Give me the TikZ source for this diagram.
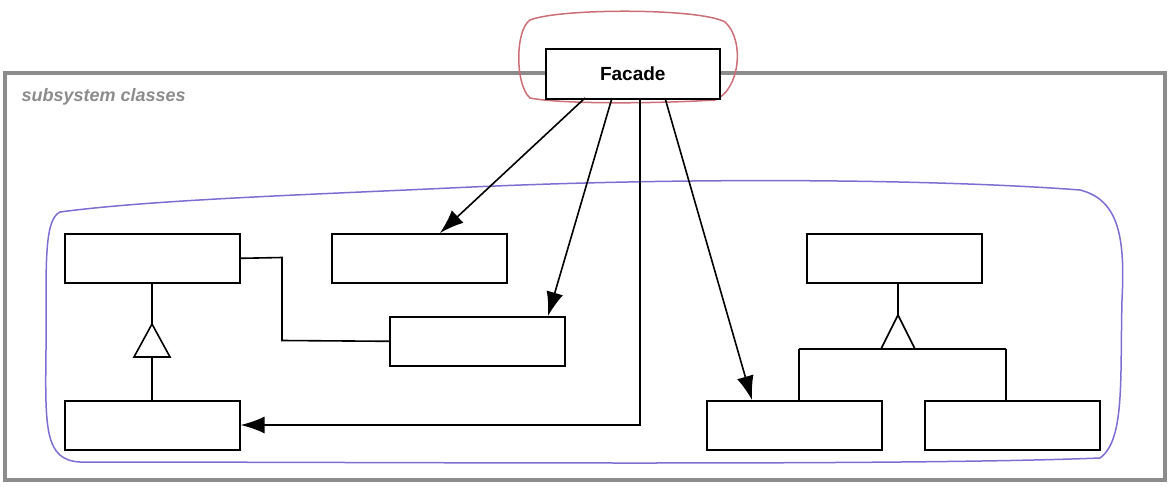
\documentclass[tikz,border=0pt]{standalone}
\usepackage{fontspec}
\setmainfont{Liberation Sans}
\usetikzlibrary{arrows.meta}
\definecolor{blu}{HTML}{7B6FD2}
\definecolor{rd}{HTML}{CC6E78}
\begin{document}
\begin{tikzpicture}[x=1pt,y=-1pt,
 cls/.style={draw,line width=1.6pt,fill=white,minimum width=175pt,minimum height=49pt,inner sep=0pt,anchor=north west},
 arr/.style={line width=1.6pt,-{Latex[length=24pt,width=17pt]}},
 ln/.style={line width=1.6pt}]
\useasboundingbox (0,0) rectangle (1170,487);
\draw[line width=3.5pt,black!45] (5,73) rectangle (1165,480);
\node[anchor=west,text=black!45,font=\itshape\bfseries\fontsize{18}{20}\selectfont] (lbl) at (18,97) {subsystem classes};
% blue freehand
\draw[line width=1.5pt,blu] (60,212) .. controls (150,200) and (300,195) .. (450,188)
 .. controls (700,176) and (950,180) .. (1080,190) .. controls (1120,200) and (1125,240) .. (1122,300)
 .. controls (1120,380) and (1125,440) .. (1100,458) .. controls (900,466) and (400,462) .. (80,462)
 .. controls (45,460) and (45,430) .. (46,350) .. controls (47,280) and (42,220) .. (60,212);
% red freehand
\draw[line width=1.5pt,rd] (530,20) .. controls (560,8) and (700,8) .. (725,22)
 .. controls (745,40) and (740,90) .. (715,100) .. controls (650,104) and (560,104) .. (530,98)
 .. controls (515,85) and (515,30) .. (530,20);
\node[cls,minimum width=174pt,minimum height=50pt,font=\bfseries\fontsize{19}{21}\selectfont] (fac) at (545,48) {\raisebox{-3pt}{Facade}};
\node[cls] (A) at (64,233) {};
\node[cls] (B) at (331,233) {};
\node[cls] (C) at (389,316) {};
\node[cls] (D) at (64,400) {};
\node[cls] (E) at (806,233) {};
\node[cls] (F) at (706,400) {};
\node[cls] (G) at (924,400) {};
% A to C
\draw[ln] (A.east) -- (282,257.5) -- (282,340.5) -- (C.west);
% inheritance left
\coordinate (t1) at (152,324);
\draw[ln] (A.south -| t1) -- (t1);
\draw[ln,fill=white] (t1) -- (170,357) -- (134,357) -- cycle;
\draw[ln] (152,357) -- (D.north -| t1);
% inheritance right
\coordinate (t2) at (898,315);
\draw[ln] (E.south -| t2) -- (t2);
\draw[ln,fill=white] (t2) -- (915,349) -- (881,349) -- cycle;
\draw[ln] (799,349) -- (1006,349);
\draw[ln] (799,349) -- (799,400);
\draw[ln] (1006,349) -- (1006,400);
% facade arrows
\draw[arr] (585,98) -- (440,233);
\draw[arr] (612,98) -- (548,316);
\draw[arr] (640,98) -- (640,425) -- (D.east |- 0,425);
\draw[arr] (665,98) -- (752,400);
\end{tikzpicture}
\end{document}
